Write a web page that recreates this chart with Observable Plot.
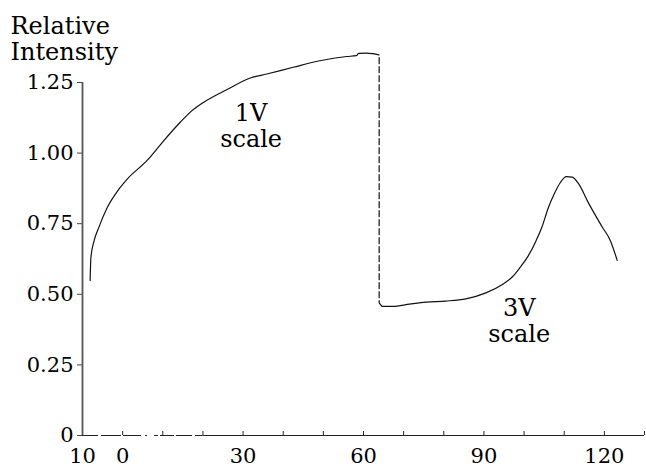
<!DOCTYPE html>
<html>
<head>
<meta charset="utf-8">
<script src="https://cdn.jsdelivr.net/npm/d3@7"></script>
<script src="https://cdn.jsdelivr.net/npm/@observablehq/plot@0.6"></script>
<style>
  html, body { margin: 0; padding: 0; background: #fff; }
  #chart svg { display: block; }
  #chart svg text, #chart svg tspan { font-family: "DejaVu Serif", serif !important; }
</style>
</head>
<body>
<div id="chart"></div>
<script>
// 1V-scale segment (time, relative intensity)
const oneVX = [-8.1, -7.9, -7.1, -5.9, -3.8, -0.9, 1.2, 6.1, 10.0, 14.4, 17.0, 20.2, 26.0, 31.8, 35.9, 42.5, 49.1, 55.8, 58.2, 58.8, 60.7, 62.4];
const oneVY = [0.549, 0.631, 0.690, 0.738, 0.808, 0.873, 0.909, 0.974, 1.040, 1.110, 1.147, 1.180, 1.225, 1.266, 1.280, 1.304, 1.327, 1.342, 1.345, 1.353, 1.354, 1.352];

// switch-over (dashed) segment
const switchX = [62.4, 63.9, 63.9, 64.6];
const switchY = [1.352, 1.348, 0.470, 0.457];

// 3V-scale segment
const threeVX = [64.6, 67.3, 71.5, 75.6, 80.5, 85.5, 90.5, 94.6, 97.1, 99.0, 101.0, 103.0, 104.5, 106.0, 107.5, 109.0, 110.5, 112.0, 113.6, 116.1, 119.4, 121.5, 123.2];
const threeVY = [0.457, 0.457, 0.465, 0.472, 0.476, 0.484, 0.505, 0.535, 0.562, 0.595, 0.635, 0.690, 0.740, 0.805, 0.855, 0.895, 0.917, 0.915, 0.891, 0.822, 0.740, 0.690, 0.620];

// axes
const xDomain = [-10, 130];
const yDomain = [0, 1.25];
const xLabelTicks = [-10, 0, 30, 60, 90, 120];
const xLabelText = ["10", "0", "30", "60", "90", "120"];
const xMinorTicks = [0, 10, 20, 30, 40, 50, 60, 70, 80, 90, 100, 110, 120, 130];
const yTicks = [0, 0.25, 0.5, 0.75, 1.0, 1.25];
const yTickText = ["0", "0.25", "0.50", "0.75", "1.00", "1.25"];

// annotations
const yTitle = "Relative\nIntensity";
const notes = [
  {x: 32, y: 1.096, text: "1V\nscale"},
  {x: 98.8, y: 0.407, text: "3V\nscale"}
];

const pts = (xs, ys) => xs.map((x, i) => ({x, y: ys[i]}));
const font = "DejaVu Serif";

const chart = Plot.plot({
  width: 646,
  height: 467,
  marginLeft: 82,
  marginRight: 2,
  marginTop: 82,
  marginBottom: 32,
  style: {fontFamily: font, fontSize: "21px", color: "#000", background: "#fff", overflow: "visible"},
  x: {domain: xDomain, label: null},
  y: {domain: yDomain, label: null},
  marks: [
    Plot.axisX(xMinorTicks, {tickSize: -4, tickFormat: () => "", stroke: "#222", label: null}),
    Plot.axisX(xLabelTicks, {tickSize: 0, tickPadding: 13, tickFormat: (d) => xLabelText[xLabelTicks.indexOf(d)], fontSize: 21, fill: "#000", label: null}),
    Plot.axisY(yTicks, {tickSize: 5, tickPadding: 4, tickFormat: (d) => yTickText[yTicks.indexOf(d)], fontSize: 21, fill: "#000", stroke: "#444", label: null}),
    Plot.ruleX([xDomain[0]], {y1: yDomain[0], y2: yDomain[1], stroke: "#555", strokeWidth: 1.8}),
    Plot.ruleY([0], {x1: 20, x2: xDomain[1], stroke: "#222", strokeWidth: 1}),
    Plot.ruleY([0], {x1: xDomain[0], x2: 20, stroke: "#222", strokeWidth: 1, strokeDasharray: "16,3,20,2,18,4,2,7,4,2,14,2"}),
    Plot.line(pts(oneVX, oneVY), {x: "x", y: "y", stroke: "#111", strokeWidth: 1.2, curve: "monotone-x"}),
    Plot.line(pts(switchX, switchY), {x: "x", y: "y", stroke: "#111", strokeWidth: 1.2, strokeDasharray: "6,3"}),
    Plot.line(pts(threeVX, threeVY), {x: "x", y: "y", stroke: "#111", strokeWidth: 1.2, curve: "monotone-x"}),
    Plot.text(notes, {x: "x", y: "y", text: "text", fontSize: 24, lineHeight: 1.09, lineAnchor: "middle", fill: "#000", fontFamily: font}),
    Plot.text([yTitle], {frameAnchor: "top-left", dx: -72, dy: -67, textAnchor: "start", lineAnchor: "top", fontSize: 24, lineHeight: 1.09, fill: "#000", fontFamily: font})
  ]
});
document.getElementById("chart").appendChild(chart);
</script>
</body>
</html>
